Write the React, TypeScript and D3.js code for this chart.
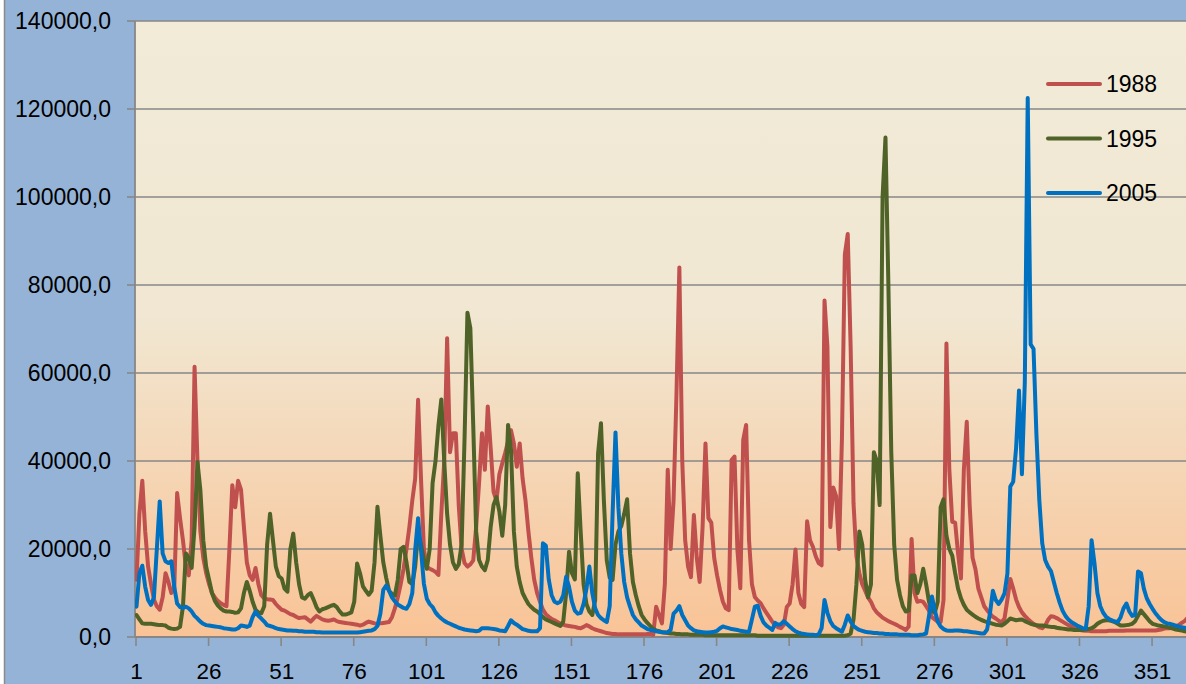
import React from "react";
import * as d3 from "d3";

// daily values, in thousands
const s1988k = [
  13, 28, 35.5, 24, 16, 12, 8.5, 7, 6.2, 9,
  14.5, 12.5, 10, 11, 32.7, 27, 22, 16, 14, 22,
  61.4, 40, 24, 18, 14.5, 12, 10, 9, 8.2, 7.7,
  7.3, 7, 20, 34.5, 29.5, 35.5, 33.5, 25, 17, 14,
  13, 15.7, 12, 9.5, 8.8, 8.6, 8.5, 8.4, 7.5, 6.8,
  6.2, 6, 5.6, 5.2, 5, 4.6, 4.3, 4.4, 4.5, 4,
  3.5, 4.2, 4.8, 4.4, 4, 3.8, 3.7, 3.8, 4, 3.6,
  3.4, 3.3, 3.2, 3.1, 3, 2.9, 2.8, 2.6, 2.8, 3.2,
  3.5, 3.3, 3.1, 3, 3.1, 3.2, 3.3, 3.4, 4.5, 6.5,
  9, 12, 15.5, 20, 25, 31, 36, 53.9, 36, 20,
  16, 15.5, 15.2, 14.8, 14.1, 28, 40, 67.9, 42, 46.3,
  46.3, 30, 20, 16.8, 16, 16.5, 17.4, 25, 35, 46.3,
  38, 52.4, 43, 33, 31, 37, 39.5, 41.8, 44.5, 47,
  44, 38.7, 44, 36, 31, 24, 18, 13, 10, 8,
  6.2, 5.2, 4.6, 4.1, 3.8, 3.4, 3, 2.8, 2.6, 2.5,
  2.4, 2.3, 2.1, 2, 2.3, 2.7, 2.4, 2, 1.7, 1.5,
  1.3, 1.1, 0.9, 0.8, 0.7, 0.7, 0.6, 0.6, 0.6, 0.6,
  0.6, 0.6, 0.6, 0.6, 0.6, 0.6, 0.7, 0.7, 0.5, 6.9,
  5, 3.1, 12, 38, 20, 31, 55, 84, 40, 22,
  16, 13.6, 27.7, 18, 12.5, 25, 44, 27, 26, 18,
  14, 10.7, 8, 6.5, 6.1, 40.2, 41, 19.8, 11.1, 44.8,
  48.2, 22, 12, 9.1, 8.3, 7.7, 6.5, 5.5, 4.5, 3.5,
  2.6, 2.2, 2, 2.8, 6.8, 7.6, 12, 19.9, 10, 7.5,
  6.8, 26.3, 22, 20.5, 18.3, 16.8, 16.3, 76.5, 66, 25,
  34, 32, 20, 45, 86.9, 91.6, 66, 30.3, 18.3, 14.5,
  12, 10.5, 9, 8, 6.5, 5.6, 5, 4.4, 4, 3.6,
  3.3, 3, 2.7, 2.3, 2, 1.6, 2.4, 22.3, 10, 8,
  8.2, 8, 7, 6, 4.5, 4, 3.5, 3.4, 8.4, 66.7,
  38, 26.2, 26, 19, 13.3, 38, 48.9, 30, 18, 15.4,
  11, 9, 7, 6.1, 5.3, 4.6, 4.2, 3.7, 3.3, 4.2,
  8.5, 13.2, 11, 8.5, 6.8, 5.6, 4.8, 4.1, 3.5, 3,
  2.6, 2.2, 2, 2.6, 3.9, 4.7, 4.6, 4.3, 3.9, 3.5,
  3.1, 2.7, 2.4, 2.1, 1.8, 1.6, 1.5, 1.4, 1.4, 1.3,
  1.3, 1.3, 1.3, 1.3, 1.3, 1.4, 1.4, 1.4, 1.4, 1.4,
  1.4, 1.5, 1.5, 1.5, 1.5, 1.5, 1.5, 1.5, 1.5, 1.5,
  1.5, 1.5, 1.6, 1.7, 1.9, 2, 2, 2.2, 2.4, 2.7,
  3.2, 3.6, 4.3, 4.5, 4.2,
];

const s1995k = [
  5, 4, 3.1, 3, 3, 3, 2.9, 2.8, 2.7, 2.7,
  2.6, 2.1, 1.9, 1.8, 1.9, 2.3, 6.9, 19, 18, 15.7,
  25, 39.8, 33.4, 22, 16, 13, 10, 8.2, 7.2, 6.5,
  6, 5.8, 5.8, 5.7, 5.5, 5.6, 6.5, 10, 12.5, 10.5,
  8, 6.2, 5.6, 5.4, 7, 21, 28, 22, 16, 13.8,
  13.3, 11, 10.3, 20, 23.5, 17, 12, 9, 8.7, 9.5,
  10, 8.5, 6.8, 5.8, 6.3, 6.5, 6.8, 7.1, 7.3, 6.8,
  5.8, 5.1, 5.1, 5.3, 5.6, 8, 16.7, 14.5, 11.5, 10.5,
  9.6, 10.5, 17, 29.6, 23, 17, 13.5, 10.5, 9.8, 9.4,
  13, 20, 20.5, 17, 12.5, 12, 16, 23.6, 21, 17.5,
  15.5, 20, 35, 40, 48, 54, 40, 28, 21, 17,
  15.5, 16.5, 21, 45, 73.7, 70.2, 48, 24, 17.5, 16,
  15.2, 17.5, 25, 30, 31.8, 28.5, 23, 30, 48.2, 42.6,
  24, 16, 12.5, 10, 8.7, 7.5, 6.8, 6.2, 5.8, 5.2,
  4.5, 4, 3.7, 3.4, 3.1, 2.8, 2.5, 3.5, 10, 19.4,
  14.5, 13.1, 37.2, 24, 12, 7.5, 5.8, 5, 8.4, 41.7,
  48.6, 31, 17.4, 13.5, 13, 21, 24, 25.2, 28, 31.3,
  19, 12.5, 9.5, 7, 5, 4, 3.2, 2.5, 1.8, 1.5,
  1.3, 1.1, 1, 0.9, 0.8, 0.8, 0.7, 0.7, 0.6, 0.6,
  0.6, 0.5, 0.5, 0.5, 0.5, 0.5, 0.4, 0.4, 0.4, 0.4,
  0.4, 0.4, 0.4, 0.4, 0.4, 0.4, 0.4, 0.4, 0.4, 0.4,
  0.4, 0.4, 0.4, 0.4, 0.3, 0.3, 0.3, 0.3, 0.3, 0.3,
  0.3, 0.3, 0.3, 0.3, 0.3, 0.3, 0.3, 0.3, 0.3, 0.3,
  0.3, 0.3, 0.3, 0.3, 0.3, 0.3, 0.3, 0.3, 0.3, 0.3,
  0.3, 0.3, 0.3, 0.3, 0.3, 0.4, 0.8, 4, 12, 24,
  21, 13, 9, 12, 42, 40, 30, 100, 113.5, 80,
  42, 21, 13, 9.5, 7, 5.8, 6, 14, 14, 10,
  12, 15.5, 12, 8, 6, 5.5, 8, 29.5, 31.3, 23,
  20, 18.5, 14.5, 11, 8.8, 7.3, 6.2, 5.6, 5.1, 4.6,
  4.2, 3.9, 3.6, 3.4, 3.2, 3, 2.8, 2.7, 2.6, 3,
  3.6, 4.2, 4, 3.8, 3.9, 4, 3.6, 3.3, 3, 2.8,
  2.7, 2.6, 2.6, 2.5, 2.4, 2.3, 2.3, 2.1, 2, 1.9,
  1.8, 1.7, 1.7, 1.6, 1.6, 1.6, 1.6, 1.7, 1.8, 2,
  2.4, 3, 3.4, 3.7, 3.8, 3.8, 3.6, 3.4, 3, 2.6,
  2.6, 2.7, 2.8, 3, 3.6, 4.8, 6, 5.2, 4.4, 3.6,
  3, 2.8, 2.6, 2.5, 2.4, 2.3, 2.1, 1.9, 1.7, 1.6,
  1.5, 1.3, 1.2, 1.1, 1.1,
];

const s2005k = [
  6.9, 14.5, 16.2, 11.4, 8.4, 7.3, 9, 20, 30.8, 19,
  17.2, 16.8, 17.2, 11.4, 7.6, 6.8, 6.6, 6.9, 6.5, 5.8,
  4.8, 4.2, 3.5, 3, 2.7, 2.6, 2.5, 2.4, 2.3, 2.2,
  2, 1.9, 1.8, 1.7, 1.7, 2, 2.6, 2.5, 2.3, 2.6,
  4.5, 5.8, 4.8, 4.2, 3.5, 2.7, 2.5, 2.3, 2, 1.8,
  1.7, 1.6, 1.5, 1.5, 1.4, 1.4, 1.3, 1.3, 1.2, 1.2,
  1.2, 1.2, 1.1, 1.1, 1, 1, 1, 1, 1, 1,
  1, 1, 1, 1, 1, 1, 1, 1.1, 1.2, 1.3,
  1.4, 1.5, 1.8, 2.5, 5.3, 10.7, 11.7, 10.5, 9, 8.1,
  7.4, 7, 6.6, 6.4, 7.5, 10, 19.8, 27, 19.8, 12.1,
  8.7, 7.5, 6.8, 5.6, 4.8, 4.2, 3.7, 3.3, 3, 2.7,
  2.4, 2.1, 1.9, 1.7, 1.6, 1.5, 1.4, 1.3, 1.4, 2,
  2, 2, 1.9, 1.8, 1.7, 1.5, 1.4, 1.3, 2.5, 3.8,
  3.2, 2.8, 2.3, 1.8, 1.6, 1.4, 1.3, 1.3, 1.3, 2,
  21.3, 20.8, 13.1, 9.5, 8, 7.7, 8, 9.5, 13.7, 11.4,
  8, 6, 5.3, 5.5, 7.5, 11, 16, 10, 6.5, 5,
  4.3, 3.8, 3.4, 7, 28, 46.5, 29.5, 19, 12.5, 9,
  6.9, 5, 4, 3.3, 2.6, 2.2, 1.8, 1.6, 1.5, 1.3,
  1.2, 1.1, 1, 1.1, 1.6, 5.3, 6, 7, 5, 3.8,
  2.6, 2, 1.5, 1.3, 1.2, 1.1, 1, 1, 1.1, 1.2,
  1.4, 2, 2.4, 2.2, 2, 1.8, 1.7, 1.6, 1.4, 1.3,
  1.2, 1.2, 4, 6.9, 7.1, 4.8, 3.3, 2.6, 2.1, 1.6,
  3.2, 2.8, 2.9, 3.6, 3, 2.4, 1.8, 1.3, 1, 0.8,
  0.7, 0.6, 0.5, 0.5, 0.4, 0.6, 2, 8.4, 5.5, 3.6,
  2.5, 2, 1.6, 1.2, 2.8, 4.9, 3.5, 2.5, 2, 1.6,
  1.4, 1.2, 1.1, 1, 0.9, 0.9, 0.8, 0.8, 0.7, 0.7,
  0.6, 0.6, 0.6, 0.5, 0.5, 0.5, 0.5, 0.4, 0.4, 0.4,
  0.5, 0.6, 0.8, 4.8, 9.2, 6, 3.5, 2.4, 1.8, 1.5,
  1.4, 1.4, 1.5, 1.5, 1.4, 1.3, 1.3, 1.2, 1.1, 1,
  0.9, 0.8, 0.8, 1.7, 5.4, 10.5, 8.4, 7.5, 8.5, 9.9,
  14.4, 34.2, 35.3, 43, 56, 37, 58, 122.5, 66.5, 65.5,
  46, 31, 21.3, 17.5, 16, 15, 12.5, 10, 7.8, 6,
  4.8, 4, 3.4, 3, 2.6, 2.3, 2, 1.9, 7, 22,
  16.7, 10, 7, 5.5, 4.6, 4.1, 3.8, 3.5, 3.4, 4.5,
  6.5, 7.6, 5.8, 4.8, 5, 14.9, 14.5, 11, 8.8, 7.5,
  6.4, 5.4, 4.6, 3.9, 3.4, 3.1, 3, 2.8, 2.6, 2.4,
  2.2, 2.1, 2, 1.9, 1.8,
];

const series1988 = s1988k.map((v) => v * 1000);
const series1995 = s1995k.map((v) => v * 1000);
const series2005 = s2005k.map((v) => v * 1000);

const days = series1988.map((_, i) => i + 1);
const xTickLabels = [1, 26, 51, 76, 101, 126, 151, 176, 201, 226, 251, 276, 301, 326, 351];
const yTicks = [0, 20000, 40000, 60000, 80000, 100000, 120000, 140000];
const seriesNames = ["1988", "1995", "2005"];
const seriesColors = ["#C0504D", "#4F6228", "#0070C0"];
const allSeries = [series1988, series1995, series2005];

const W = 1186;
const H = 684;
const plotLeft = 135;
const plotTop = 21;
const plotBottom = 637;
const firstX = 136.5;
const step = 2.903;
const plotRight = firstX + (days.length - 1) * step + 2;

const FONT = "'Liberation Sans', Arial, sans-serif";

export default function App() {
  const x = d3
    .scaleLinear()
    .domain([1, days.length])
    .range([firstX, firstX + (days.length - 1) * step]);
  const y = d3.scaleLinear().domain([0, 140000]).range([plotBottom, plotTop]);

  const line = d3
    .line<number>()
    .x((_, i) => x(days[i]))
    .y((d) => y(d));

  const fmt = (v: number) => v.toFixed(1).replace(".", ",");

  return (
    <svg
      width={W}
      height={H}
      style={{ position: "absolute", left: 0, top: 0, overflow: "hidden", background: "#fff" }}
    >
      <defs>
        <linearGradient id="plotGrad" x1="0" y1="0" x2="0" y2="1">
          <stop offset="0%" stopColor="#F1EBD7" />
          <stop offset="48%" stopColor="#F1E7D2" />
          <stop offset="100%" stopColor="#F9C396" />
        </linearGradient>
        <clipPath id="clipPlot">
          <rect x={plotLeft} y={0} width={W - plotLeft} height={plotBottom + 4} />
        </clipPath>
      </defs>
      <rect x={4.5} y={-10} width={W + 20} height={H + 20} fill="#95B3D7" stroke="#8a8a8a" strokeWidth={1.5} />
      <rect x={plotLeft} y={plotTop} width={plotRight - plotLeft} height={plotBottom - plotTop} fill="url(#plotGrad)" />

      {yTicks.map((t) => (
        <g key={t}>
          <line x1={plotLeft} x2={plotRight} y1={y(t)} y2={y(t)} stroke="#878787" strokeWidth={1.6} />
          <line x1={127} x2={plotLeft} y1={y(t)} y2={y(t)} stroke="#878787" strokeWidth={1.6} />
          <text
            x={111}
            y={y(t)}
            textAnchor="end"
            dominantBaseline="central"
            fontFamily={FONT}
            fontSize={23}
            fill="#000"
          >
            {fmt(t)}
          </text>
        </g>
      ))}

      <line x1={plotLeft} x2={plotLeft} y1={plotTop} y2={plotBottom} stroke="#878787" strokeWidth={1.8} />
      <line x1={plotLeft} x2={plotRight} y1={plotBottom} y2={plotBottom} stroke="#878787" strokeWidth={1.8} />

      {xTickLabels.map((d) => (
        <g key={d}>
          <line x1={x(d) - 0.5} x2={x(d) - 0.5} y1={plotBottom} y2={plotBottom + 9} stroke="#878787" strokeWidth={1.6} />
          <text
            x={x(d)}
            y={679}
            textAnchor="middle"
            fontFamily={FONT}
            fontSize={22.5}
            fill="#000"
          >
            {d}
          </text>
        </g>
      ))}

      <g clipPath="url(#clipPlot)">
        {allSeries.map((s, i) => (
          <path
            key={seriesNames[i]}
            d={line(s) || ""}
            fill="none"
            stroke={seriesColors[i]}
            strokeWidth={4}
            strokeLinejoin="round"
            strokeLinecap="round"
          />
        ))}
      </g>

      {seriesNames.map((n, i) => {
        const ly = 84 + i * 54.5;
        return (
          <g key={n}>
            <line x1={1048} x2={1100} y1={ly} y2={ly} stroke={seriesColors[i]} strokeWidth={4} strokeLinecap="round" />
            <text x={1106} y={ly} dominantBaseline="central" fontFamily={FONT} fontSize={23} fill="#000">
              {n}
            </text>
          </g>
        );
      })}
    </svg>
  );
}
